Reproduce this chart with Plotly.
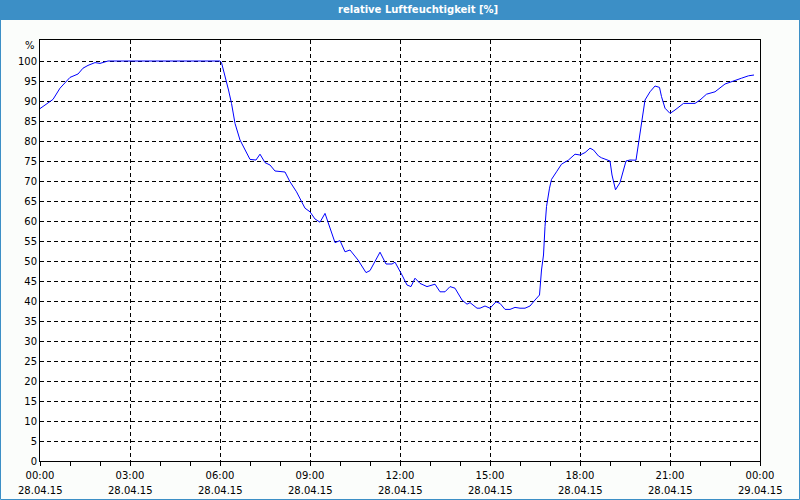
import pandas as pd
import plotly.graph_objects as go

# time of day (HH:MM, 28.04.15) and relative humidity [%]
times = [
    "00:00", "00:16", "00:26", "00:40", "01:00", "01:16", "01:26", "01:36", "01:50", "02:00",
    "02:16", "05:56", "06:00", "06:03", "06:07", "06:17", "06:23", "06:30", "06:40", "06:50",
    "07:00", "07:12", "07:20", "07:30", "07:40", "07:50", "08:10", "08:20", "08:33", "08:50",
    "09:00", "09:10", "09:20", "09:30", "09:50", "10:00", "10:10", "10:20", "10:36", "10:52",
    "11:00", "11:20", "11:32", "11:44", "11:50", "12:04", "12:14", "12:22", "12:30", "12:40",
    "12:54", "13:10", "13:20", "13:30", "13:40", "13:50", "14:04", "14:14", "14:20", "14:34",
    "14:40", "14:50", "15:00", "15:12", "15:20", "15:30", "15:40", "15:50", "16:00", "16:10",
    "16:20", "16:30", "16:39", "16:43", "16:47", "16:50", "16:53", "16:59", "17:03", "17:13",
    "17:23", "17:37", "17:50", "18:00", "18:10", "18:20", "18:27", "18:37", "18:43", "19:00",
    "19:04", "19:11", "19:20", "19:32", "19:40", "19:52", "19:57", "20:02", "20:10", "20:20",
    "20:30", "20:39", "20:43", "20:50", "21:00", "21:10", "21:27", "21:50", "22:00", "22:13",
    "22:30", "22:50", "23:07", "23:23", "23:37", "23:48",
]
humidity = [
    88.1, 89.6, 90.4, 93.2, 95.9, 96.75, 98.2, 98.9, 99.6, 99.4,
    100.0, 100.0, 100.0, 99.6, 97.75, 92.75, 89.4, 84.4, 80.25, 77.75,
    75.4, 75.25, 76.7, 74.6, 74.0, 72.5, 72.25, 69.8, 67.3, 63.2,
    62.3, 60.5, 59.7, 61.9, 54.6, 55.1, 52.3, 52.75, 50.25, 47.1,
    47.6, 52.2, 49.25, 49.25, 49.7, 46.5, 44.0, 43.6, 45.7, 44.4,
    43.6, 44.2, 42.3, 42.3, 43.6, 43.2, 40.25, 39.2, 39.6, 38.2,
    38.2, 38.75, 38.2, 39.8, 39.4, 37.9, 37.9, 38.4, 38.2, 38.2,
    38.75, 40.25, 41.5, 47.75, 51.5, 58.6, 63.6, 68.2, 70.4, 72.3,
    74.2, 75.25, 76.7, 76.5, 77.1, 78.2, 77.75, 76.25, 75.8, 75.0,
    71.5, 67.8, 69.6, 75.0, 75.25, 75.2, 79.5, 84.5, 90.25, 92.3,
    93.75, 93.4, 91.1, 88.2, 86.9, 87.75, 89.4, 89.4, 90.25, 91.7,
    92.3, 94.25, 95.1, 95.7, 96.3, 96.5,
]

tick_times = ["2015-04-28 00:00", "2015-04-28 03:00", "2015-04-28 06:00", "2015-04-28 09:00",
              "2015-04-28 12:00", "2015-04-28 15:00", "2015-04-28 18:00", "2015-04-28 21:00",
              "2015-04-29 00:00"]
tick_hours = ["00:00", "03:00", "06:00", "09:00", "12:00", "15:00", "18:00", "21:00", "00:00"]
tick_dates = ["28.04.15", "28.04.15", "28.04.15", "28.04.15", "28.04.15", "28.04.15",
              "28.04.15", "28.04.15", "29.04.15"]
y_ticks = list(range(0, 101, 5))

title_text = "relative Luftfeuchtigkeit [%]"
unit_text = "%"

x = pd.to_datetime(["2015-04-28 " + t for t in times])

BLUE_BAR = "#3c8fc6"
FONT = "DejaVu Sans"

fig = go.Figure()
fig.add_trace(go.Scatter(x=x, y=humidity, mode="lines",
                         line=dict(color="#0000ff", width=1), hoverinfo="skip"))

fig.update_layout(
    width=800, height=500,
    margin=dict(l=40, r=40, t=40, b=39),
    paper_bgcolor="#fbfdfb",
    plot_bgcolor="#ffffff",
    showlegend=False,
    font=dict(family=FONT, size=10, color="#000000"),
    xaxis=dict(
        type="date",
        range=["2015-04-28 00:00", "2015-04-29 00:00"],
        tickvals=tick_times, ticktext=tick_hours,
        ticklabelstandoff=5,
        showgrid=True, gridcolor="#000000", gridwidth=1, griddash="4px,3px",
        showline=True, linecolor="#000000", linewidth=1, mirror=True,
        ticks="", zeroline=False,
        minor=dict(dtick=3600000, ticks="outside", ticklen=4, tickcolor="#000000",
                   showgrid=False, tick0="2015-04-28 00:00"),
        tickfont=dict(family=FONT, size=10),
        fixedrange=True,
    ),
    yaxis=dict(
        range=[0, 105.25],
        tickvals=y_ticks,
        showgrid=True, gridcolor="#000000", gridwidth=1, griddash="4px,3px",
        showline=True, linecolor="#000000", linewidth=1, mirror=True,
        ticks="", zeroline=False,
        tickfont=dict(family=FONT, size=10),
        fixedrange=True,
    ),
)

# title bar and outer border (pixel-based via paper coords)
ph = 421.0
pw = 720.0
def px_x(p):
    return (p - 40) / pw
def px_y(p):
    return (461 - p) / ph

fig.add_shape(type="rect", xref="paper", yref="paper",
              x0=px_x(0), x1=px_x(800), y0=px_y(20), y1=px_y(0),
              fillcolor=BLUE_BAR, line=dict(width=0), layer="above")
fig.add_shape(type="rect", xref="paper", yref="paper",
              x0=px_x(0.5), x1=px_x(799.5), y0=px_y(499.5), y1=px_y(19),
              fillcolor="rgba(0,0,0,0)", line=dict(color=BLUE_BAR, width=1), layer="above")
fig.add_annotation(text="<b>" + title_text + "</b>", xref="paper", yref="paper",
                   x=px_x(418), y=px_y(10), xanchor="center", yanchor="middle",
                   showarrow=False, font=dict(family=FONT, size=10, color="#ffffff"))
fig.add_annotation(text=unit_text, xref="paper", yref="y", x=0, y=104,
                   xanchor="right", yanchor="middle", xshift=-3, showarrow=False,
                   font=dict(family=FONT, size=10, color="#000000"))
for tt, dd in zip(tick_times, tick_dates):
    fig.add_annotation(text=dd, x=tt, xref="x", yref="paper", y=px_y(490),
                       xanchor="center", yanchor="middle", showarrow=False,
                       font=dict(family=FONT, size=10, color="#000000"))

fig.write_html("out.html")
